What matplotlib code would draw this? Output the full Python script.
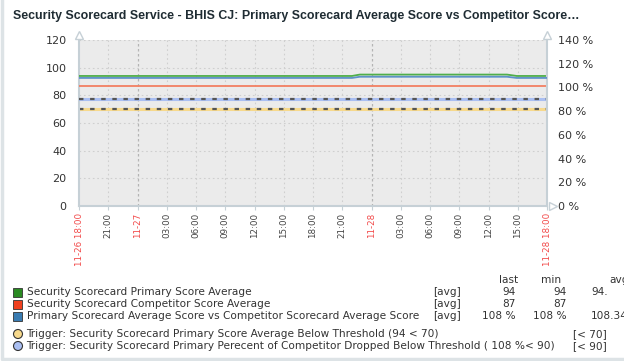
import numpy as np
import matplotlib
matplotlib.use("Agg")
import matplotlib.pyplot as plt
from matplotlib.patches import Rectangle, Ellipse

# hours since 11-26 18:00
hours_primary = [0, 28.0, 28.8, 43.9, 44.9, 48]
primary_avg = [94, 94, 95, 95, 94, 94]
hours_pct = [0, 28.0, 28.8, 43.9, 44.9, 48]
pct_of_competitor = [108, 108, 109, 109, 108, 108]
hours_comp = [0, 48]
competitor_avg = [87, 87]
trigger_primary = 70      # left axis
trigger_pct = 90          # right axis (%)

tick_hours = np.arange(0, 49, 3)
tick_labels = ["11-26 18:00", "21:00", "11-27", "03:00", "06:00", "09:00", "12:00",
               "15:00", "18:00", "21:00", "11-28", "03:00", "06:00", "09:00",
               "12:00", "15:00", "11-28 18:00"]
red_ticks = {0, 2, 10, 16}

legend_names = ["Security Scorecard Primary Score Average",
                "Security Scorecard Competitor Score Average",
                "Primary Scorecard Average Score vs Competitor Scorecard Average Score"]
legend_colors = ["#2a8a22", "#f0401e", "#3a7cb2"]
legend_last = ["94", "87", "108 %"]
legend_min = ["94", "87", "108 %"]
legend_avg = ["94.", "", "108.34"]
trigger_names = ["Trigger: Security Scorecard Primary Score Average Below Threshold (94 < 70)",
                 "Trigger: Security Scorecard Primary Perecent of Competitor Dropped Below Threshold ( 108 %< 90)"]
trigger_cond = ["[< 70]", "[< 90]"]
trigger_colors = ["#f7d98c", "#aabff2"]

W, H = 624, 361
fig = plt.figure(figsize=(W / 100, H / 100), dpi=100)
fig.patch.set_facecolor("white")
# widget frame (left and bottom visible)
fig.add_artist(plt.Line2D([0.003, 0.003, 1], [1, 0.005, 0.005], transform=fig.transFigure,
                          color="#dde3e6", lw=2.5))

def fx(px):
    return px / W

def fy(py):
    return 1 - py / H

x0, x1, y0, y1 = 79, 547, 40, 206
ax = fig.add_axes([fx(x0), fy(y1), fx(x1 - x0), (y1 - y0) / H])
ax.set_facecolor("#ebebeb")
ax.set_xlim(0, 48)
ax.set_ylim(0, 120)
ax2 = ax.twinx()
ax2.set_ylim(0, 140)

axis_col = "#c6d0d6"
for a in (ax, ax2):
    for s in a.spines.values():
        s.set_visible(False)
ax.spines["left"].set_visible(True)
ax.spines["bottom"].set_visible(True)
ax2.spines["right"].set_visible(True)
for s in (ax.spines["left"], ax.spines["bottom"], ax2.spines["right"]):
    s.set_color(axis_col)
    s.set_linewidth(1.5)

# grid
for v in range(20, 121, 20):
    ax.axhline(v, color="#cfcfcf", lw=0.8, ls=(0, (1.5, 2.5)), zorder=1)
for i, h in enumerate(tick_hours[1:-1], start=1):
    if i in red_ticks:
        ax.axvline(h, color="#b4b4b4", lw=0.9, ls=(0, (2, 2)), zorder=1)
    else:
        ax.axvline(h, color="#cfcfcf", lw=0.8, ls=(0, (1.5, 2.5)), zorder=1)

ax.set_yticks(range(0, 121, 20))
ax.tick_params(axis="y", length=0, pad=9, labelsize=8, labelcolor="#333333")
ax2.set_yticks(range(0, 141, 20))
ax2.set_yticklabels([f"{v} %" for v in range(0, 141, 20)])
ax2.tick_params(axis="y", length=0, pad=8, labelsize=8, labelcolor="#333333")

ax.set_xticks(tick_hours)
ax.set_xticklabels(tick_labels, rotation=90, fontsize=6.3, va="top")
ax.tick_params(axis="x", length=3, color=axis_col, pad=2)
for i, lab in enumerate(ax.get_xticklabels()):
    lab.set_color("#f24a4a" if i in red_ticks else "#444444")

# data lines
ax.plot(hours_comp, competitor_avg, color="#f27f62", lw=1.3, zorder=3)
ax2.plot(hours_pct, pct_of_competitor, color="#5d92c8", lw=1.3, zorder=3)
ax.plot(hours_primary, primary_avg, color="#4fae4a", lw=1.3, zorder=4)

# triggers
ax.axhline(trigger_primary, color=trigger_colors[0], lw=2.2, zorder=2)
ax.axhline(trigger_primary, color="#555555", lw=1.6, ls=(0, (2, 3)), zorder=2)
ax2.axhline(trigger_pct, color=trigger_colors[1], lw=2.2, zorder=2)
ax2.axhline(trigger_pct, color="#555555", lw=1.6, ls=(0, (2, 3)), zorder=2)

# axis arrows
arrow_kw = dict(marker="^", ms=6, mfc="white", mec=axis_col, mew=1, clip_on=False,
                transform=ax.transAxes, zorder=6)
ax.plot([0], [1.03], **arrow_kw)
ax.plot([1], [1.03], **arrow_kw)
ax.plot([1.012], [0], marker=">", ms=6, mfc="white", mec=axis_col, mew=1,
        clip_on=False, transform=ax.transAxes, zorder=6)

# title
fig.text(fx(13), fy(16), "Security Scorecard Service - BHIS CJ: Primary Scorecard Average Score vs Competitor Score…",
         fontsize=8.95, fontweight="bold", color="#1f2c33", family="Liberation Sans", va="center")

# legend table
lfs = 7.6
txt = "#333333"
fig.text(fx(509), fy(280), "last", fontsize=lfs, color=txt, ha="center", va="center")
fig.text(fx(551), fy(280), "min", fontsize=lfs, color=txt, ha="center", va="center")
fig.text(fx(609), fy(280), "avg", fontsize=lfs, color=txt, ha="left", va="center")
for i, name in enumerate(legend_names):
    yy = fy(292 + 12 * i)
    fig.patches.append(Rectangle((fx(13), yy - 4.5 / H), 9 / W, 9 / H, transform=fig.transFigure,
                                 facecolor=legend_colors[i], edgecolor="#333333", lw=0.6))
    fig.text(fx(27), yy, name, fontsize=lfs, color=txt, va="center")
    fig.text(fx(433), yy, "[avg]", fontsize=lfs, color=txt, va="center")
    fig.text(fx(516), yy, legend_last[i], fontsize=lfs, color=txt, va="center", ha="right")
    fig.text(fx(567), yy, legend_min[i], fontsize=lfs, color=txt, va="center", ha="right")
    fig.text(fx(591), yy, legend_avg[i], fontsize=lfs, color=txt, va="center", ha="left")
for i, name in enumerate(trigger_names):
    yy = fy(334 + 12 * i)
    fig.patches.append(Ellipse((fx(18), yy), 9 / W, 9 / H, transform=fig.transFigure,
                               facecolor=trigger_colors[i], edgecolor="#333333", lw=0.8))
    fig.text(fx(26), yy, name, fontsize=lfs, color=txt, va="center")
    fig.text(fx(573), yy, trigger_cond[i], fontsize=lfs, color=txt, va="center")

fig.savefig("out.png", dpi=100)
